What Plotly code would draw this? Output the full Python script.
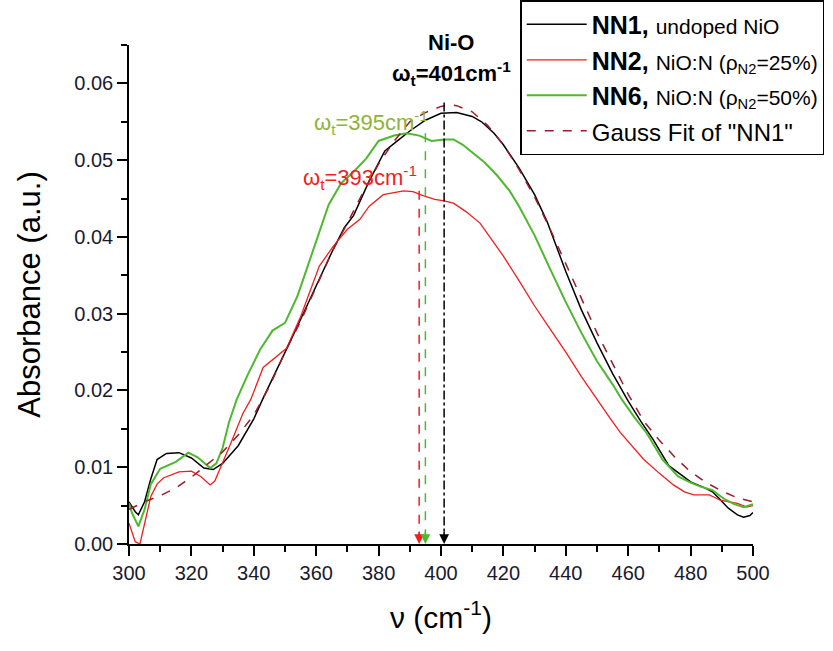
import plotly.graph_objects as go

# NN1, undoped NiO
nn1_x = [300, 302, 303, 305, 307, 309, 312, 316, 320, 324, 327, 330, 335, 340, 343, 347, 351, 357, 361,
         365, 369, 372, 377, 382, 386, 390, 395, 400, 405, 410, 413, 417, 420, 425, 430, 434, 440, 445,
         450, 455, 460, 464, 468, 471, 473, 477, 480, 484, 487, 489, 492, 495, 497, 499, 500]
nn1_y = [0.0055, 0.0042, 0.0038, 0.0055, 0.0085, 0.0110, 0.0118, 0.0119, 0.0112, 0.0099, 0.0097, 0.0105,
         0.0128, 0.0163, 0.0190, 0.0225, 0.0258, 0.0310, 0.0345, 0.0380, 0.0412, 0.0428, 0.0473, 0.0512,
         0.0525, 0.0538, 0.0552, 0.0561, 0.0562, 0.0557, 0.0550, 0.0535, 0.0520, 0.0490, 0.0455, 0.0420,
         0.0355, 0.0305, 0.0262, 0.0222, 0.0186, 0.0160, 0.0136, 0.0115, 0.0102, 0.0090, 0.0081, 0.0074,
         0.0068, 0.0060, 0.0047, 0.0038, 0.0035, 0.0037, 0.0041]

# NN2, NiO:N 25%
nn2_x = [300, 301, 302, 303.5, 305, 307, 309, 311, 316, 320, 323, 326, 327.5, 330, 332.5, 336.5, 339, 343,
         347, 350.5, 355, 361, 365.5, 370, 374, 377, 381.5, 388, 391, 394, 398, 401, 404, 408, 412.5, 416,
         420, 425, 430, 435, 440, 445, 450, 454, 457.5, 461, 465, 470, 474.5, 478, 481, 486, 489.5, 495,
         498, 500]
nn2_y = [0.0027, 0.0015, 0.0003, 0.0000, 0.0025, 0.0062, 0.0078, 0.0086, 0.0094, 0.0095, 0.0088, 0.0077,
         0.0082, 0.0105, 0.0130, 0.0170, 0.0188, 0.0230, 0.0244, 0.0255, 0.0296, 0.0362, 0.0388, 0.0410,
         0.0423, 0.0440, 0.0455, 0.0460, 0.0459, 0.0454, 0.0449, 0.0447, 0.0444, 0.0433, 0.0418, 0.0398,
         0.0375, 0.0343, 0.0310, 0.0280, 0.0250, 0.0218, 0.0188, 0.0165, 0.0145, 0.0128, 0.0110, 0.0092,
         0.0077, 0.0068, 0.0064, 0.0064, 0.0057, 0.0053, 0.0048, 0.0050]

# NN6, NiO:N 50%
nn6_x = [300, 301, 303, 305, 307, 310, 315, 319, 322, 326, 328, 330, 332, 334.5, 338, 342, 346, 350, 354,
         359, 364, 368, 372, 376, 380, 385, 389, 393, 397, 401, 404, 407, 410, 414, 418, 422, 425, 430,
         435, 440, 445, 450, 455, 458, 462, 466, 471, 476, 480, 483, 487, 491, 494, 497, 500]
nn6_y = [0.0053, 0.0040, 0.0023, 0.0045, 0.0078, 0.0098, 0.0107, 0.0119, 0.0113, 0.0099, 0.0105, 0.0125,
         0.0158, 0.0188, 0.0220, 0.0253, 0.0278, 0.0288, 0.0323, 0.0383, 0.0442, 0.0470, 0.0485, 0.0502,
         0.0525, 0.0532, 0.0535, 0.0532, 0.0525, 0.0527, 0.0527, 0.0520, 0.0510, 0.0497, 0.0480, 0.0460,
         0.0440, 0.0402, 0.0358, 0.0315, 0.0275, 0.0238, 0.0208, 0.0188, 0.0165, 0.0144, 0.0110, 0.0088,
         0.0080, 0.0075, 0.0070, 0.0058, 0.0052, 0.0048, 0.0052]

# Gauss fit of NN1
fit_x = [300, 305, 310, 315, 320, 325, 330, 335, 340, 345, 350, 355, 360, 365, 370, 375, 380, 385, 390,
         395, 400, 403, 405, 410, 415, 420, 425, 430, 435, 440, 445, 450, 455, 460, 465, 470, 475, 480,
         485, 490, 495, 500]
fit_y = [0.0045, 0.0055, 0.0063, 0.0073, 0.0087, 0.0103, 0.0120, 0.0142, 0.0168, 0.0205, 0.0250, 0.0290,
         0.0335, 0.0380, 0.0418, 0.0458, 0.0495, 0.0525, 0.0550, 0.0562, 0.0570, 0.0572, 0.0571, 0.0563,
         0.0545, 0.0520, 0.0488, 0.0452, 0.0410, 0.0365, 0.0320, 0.0275, 0.0235, 0.0195, 0.0160, 0.0135,
         0.0113, 0.0094, 0.0080, 0.0069, 0.0060, 0.0055]

# peak positions (omega_t) and arrow top heights
peak_x = [401, 393, 395]
peak_top = [0.0575, 0.0460, 0.0535]
peak_colors = ["black", "#f01e1e", "#4fb82e"]
peak_dash = ["dashdot", "dash", "dash"]

FONT = "Liberation Sans, Arial, sans-serif"

fig = go.Figure()
fig.add_trace(go.Scatter(x=nn1_x, y=nn1_y, mode="lines", line=dict(color="black", width=1.5),
                         name="<b>NN1,</b> <span style='font-size:21px'>undoped NiO</span>"))
fig.add_trace(go.Scatter(x=nn2_x, y=nn2_y, mode="lines", line=dict(color="#f01e1e", width=1.3),
                         name="<b>NN2,</b> <span style='font-size:21px'>NiO:N (ρ<sub>N2</sub>=25%)</span>"))
fig.add_trace(go.Scatter(x=nn6_x, y=nn6_y, mode="lines", line=dict(color="#4fb82e", width=2),
                         name="<b>NN6,</b> <span style='font-size:21px'>NiO:N (ρ<sub>N2</sub>=50%)</span>"))
fig.add_trace(go.Scatter(x=fit_x, y=fit_y, mode="lines", line=dict(color="#9b1c2a", width=1.5, dash="dash"),
                         name="<span style='font-size:24px'>Gauss Fit of \"NN1\"</span>"))

for px, top, c, d in zip(peak_x, peak_top, peak_colors, peak_dash):
    fig.add_trace(go.Scatter(x=[px, px], y=[top, 0.0008], mode="lines", showlegend=False,
                             line=dict(color=c, width=1.5, dash=d), hoverinfo="skip"))
    fig.add_annotation(x=px, y=0, xref="x", yref="y", ax=0, ay=-14, text="", showarrow=True,
                       arrowhead=2, arrowsize=1.3, arrowwidth=1.5, arrowcolor=c)

fig.add_annotation(x=403.2, y=1.006, xref="x", yref="paper", showarrow=False, yanchor="middle",
                   text="<b>Ni-O</b>", font=dict(family=FONT, size=22, color="black"))
fig.add_annotation(x=403.4, y=0.0613, xref="x", yref="y", showarrow=False,
                   text="<b>ω<sub>t</sub>=401cm<sup>-1</sup></b>", font=dict(family=FONT, size=22, color="black"))
fig.add_annotation(x=377.5, y=0.0549, xref="x", yref="y", showarrow=False,
                   text="ω<sub>t</sub>=395cm<sup>-1</sup>", font=dict(family=FONT, size=22, color="#8db33a"))
fig.add_annotation(x=374, y=0.0477, xref="x", yref="y", showarrow=False,
                   text="ω<sub>t</sub>=393cm<sup>-1</sup>", font=dict(family=FONT, size=22, color="#f01e1e"))

fig.update_layout(
    width=833, height=651,
    margin=dict(l=129, r=80, t=45, b=107, autoexpand=False),
    plot_bgcolor="white", paper_bgcolor="white",
    font=dict(family=FONT, color="#1a1a2e"),
    legend=dict(x=0.627, y=1.09, xanchor="left", yanchor="top", bgcolor="white",
                bordercolor="black", borderwidth=1.5, font=dict(family=FONT, size=25, color="black"),
                itemwidth=60, tracegroupgap=0),
    xaxis=dict(range=[300, 500], dtick=20, tick0=300, showgrid=False, zeroline=False,
               showline=True, linecolor="black", linewidth=1.5, ticks="outside", ticklen=10,
               tickwidth=1.5, tickcolor="black", tickfont=dict(size=20),
               minor=dict(dtick=10, ticks="outside", ticklen=6, tickwidth=1.5, tickcolor="black"),
               title=dict(text="ν (cm<sup>-1</sup>)", font=dict(size=30, color="black"), standoff=24)),
    yaxis=dict(range=[0, 0.065], dtick=0.01, tick0=0, tickformat=".2f", showgrid=False, zeroline=False,
               showline=True, linecolor="black", linewidth=1.5, ticks="outside", ticklen=10,
               tickwidth=1.5, tickcolor="black", tickfont=dict(size=20),
               minor=dict(dtick=0.005, ticks="outside", ticklen=6, tickwidth=1.5, tickcolor="black"),
               title=dict(text="Absorbance (a.u.)", font=dict(size=31, color="black"), standoff=24)),
)

# the page's body margin would shift the figure by 8px
fig.write_html("out.html", config={"displayModeBar": False},
               post_script="document.body.style.margin='0px';")
